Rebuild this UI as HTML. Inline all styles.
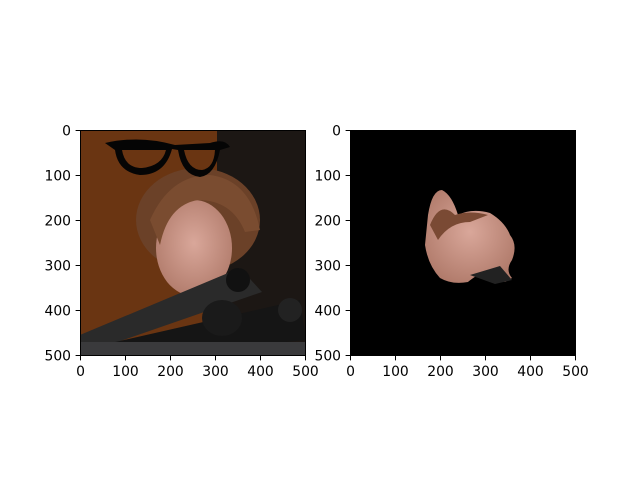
<!DOCTYPE html>
<html><head><meta charset="utf-8"><style>
body{margin:0;background:#fff;}
svg text{font-family:"DejaVu Sans","Liberation Sans",sans-serif;font-size:13.9px;fill:#000;}
</style></head><body>
<svg width="640" height="480" viewBox="0 0 640 480">
<defs>
<clipPath id="c1"><rect x="80.5" y="130.5" width="225" height="225"/></clipPath>
<clipPath id="c2"><rect x="350.5" y="130.5" width="225" height="225"/></clipPath>
<radialGradient id="skin" cx="0.5" cy="0.45" r="0.6"><stop offset="0" stop-color="#d9a79a"/><stop offset="1" stop-color="#b07a6a"/></radialGradient>
</defs>
<g id="ax1">
<g clip-path="url(#c1)">
<rect x="80.5" y="130.5" width="225" height="225" fill="#6a3512"/>
<rect x="217" y="130.5" width="89" height="225" fill="#1c1714"/>
<ellipse cx="198" cy="220" rx="62" ry="52" fill="#6b4128"/>
<ellipse cx="194" cy="248" rx="38" ry="48" fill="url(#skin)"/>
<path d="M150 220 Q170 175 210 175 Q250 180 260 230 L245 232 Q232 200 198 200 Q168 205 160 245 Z" fill="#7a4c30"/>
<path d="M80 335 L240 268 L262 292 L80 355 Z" fill="#2a2a2a"/>
<path d="M80 350 L300 300 L306 340 L150 356 Z" fill="#151515"/>
<circle cx="238" cy="280" r="12" fill="#111"/>
<ellipse cx="222" cy="318" rx="20" ry="18" fill="#1a1a1a"/>
<circle cx="290" cy="310" r="12" fill="#222"/>
<rect x="80" y="342" width="226" height="14" fill="#3a3a3c"/>
<path d="M105 143 Q140 135 175 145 L210 143 Q225 138 230 147 L220 150 Q215 175 200 177 Q182 175 178 150 L172 149 Q165 175 140 175 Q118 172 115 150 Z" fill="#050505"/>
<path d="M122 150 Q125 168 142 168 Q162 166 166 150 Z" fill="#6a3512"/>
<path d="M184 150 Q188 170 202 170 Q214 168 215 150 Z" fill="#6a3512"/>
</g>
<rect x="80.5" y="130.5" width="225" height="225" fill="none" stroke="#000" stroke-width="1"/>
<g id="t1"></g>
</g>
<g id="ax2">
<g clip-path="url(#c2)">
<rect x="350.5" y="130.5" width="225" height="225" fill="#000"/>
<path d="M428 215 Q432 190 442 190 Q452 195 458 215 Q472 208 490 213 Q505 222 510 235 Q518 245 512 260 Q505 270 512 278 L505 282 Q495 275 482 272 Q470 280 468 282 Q452 285 440 278 Q428 265 425 245 Z" fill="url(#skin)"/>
<path d="M430 225 Q440 200 455 215 Q470 210 488 215 L470 222 Q450 222 438 240 Z" fill="#7a4a34"/>
<path d="M470 275 L500 266 L512 280 L495 284 Z" fill="#222"/>
</g>
<rect x="350.5" y="130.5" width="225" height="225" fill="none" stroke="#000" stroke-width="1"/>
<g id="t2"></g>
</g>
</svg>
<script>
const tickValues=[0,100,200,300,400,500];
const tickLabels=["0","100","200","300","400","500"];
const imgSize=500;
function ticks(gid,x0,y0,w){
  const g=document.getElementById(gid);const ns="http://www.w3.org/2000/svg";
  const s=v=>v/imgSize*w;
  tickValues.forEach((v,i)=>{
    let l=document.createElementNS(ns,"line");
    
    
    l.setAttribute("x1",x0+s(v));l.setAttribute("x2",x0+s(v));l.setAttribute("y1",y0+w);l.setAttribute("y2",y0+w+4.9);l.setAttribute("stroke","#000");g.appendChild(l);
    let t=document.createElementNS(ns,"text");
    
    
    t.setAttribute("x",x0+s(v));t.setAttribute("y",y0+w+20.5);t.setAttribute("text-anchor","middle");t.textContent=tickLabels[i];g.appendChild(t);
    let l2=document.createElementNS(ns,"line");
    
    
    l2.setAttribute("x1",x0-4.9);l2.setAttribute("x2",x0);l2.setAttribute("y1",y0+s(v));l2.setAttribute("y2",y0+s(v));l2.setAttribute("stroke","#000");g.appendChild(l2);
    let t2=document.createElementNS(ns,"text");
    
    
    t2.setAttribute("x",x0-9.5);t2.setAttribute("y",y0+s(v)+5);t2.setAttribute("text-anchor","end");t2.textContent=tickLabels[i];g.appendChild(t2);
  });
}
ticks("t1",80.5,130.5,225);
ticks("t2",350.5,130.5,225);
</script>
</body></html>
